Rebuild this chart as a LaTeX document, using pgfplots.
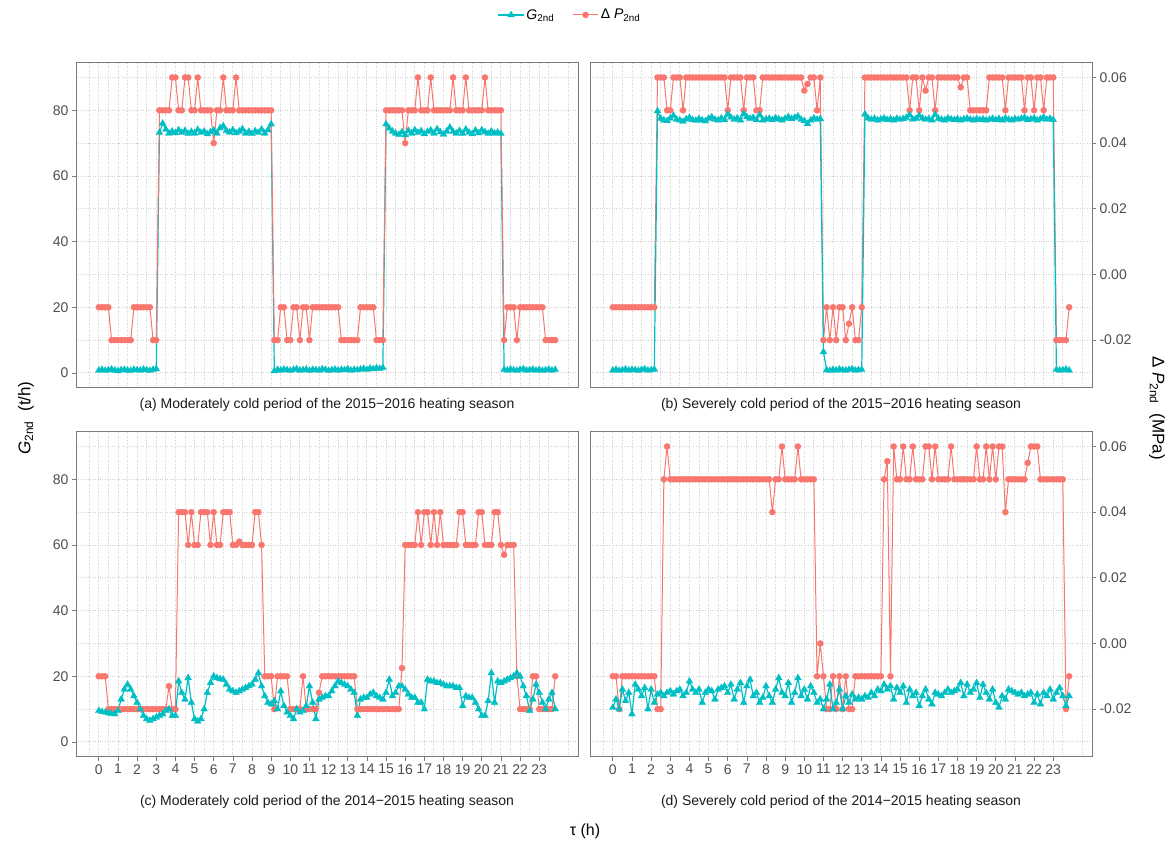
\documentclass[border=0pt]{standalone}
\usepackage{fontspec}
\setmainfont{Liberation Sans}
\usepackage{pgfplots}
\usepackage{pgfplotstable}
\pgfplotsset{compat=1.18}
\definecolor{gcol}{HTML}{00BFC4}
\definecolor{pcol}{HTML}{F8766D}
\definecolor{bordercol}{HTML}{7A7A7A}
\definecolor{gridcol}{HTML}{D2D2D2}
\definecolor{ticklab}{HTML}{4D4D4D}
\definecolor{striptext}{HTML}{1A1A1A}

\pgfplotstableread[row sep=\\]{i G P\\
0 0.8 20\\1 1.0 20\\2 0.7 20\\3 0.9 20\\4 1.1 10\\5 0.8 10\\6 0.6 10\\7 0.9 10\\8 1.0 10\\9 0.8 10\\10 0.7 10\\11 1.0 20\\
12 0.9 20\\13 0.8 20\\14 1.1 20\\15 0.9 20\\16 0.7 20\\17 1.0 10\\18 1.2 10\\19 73.2 80\\20 76.0 80\\21 74.2 80\\22 73.0 80\\23 73.6 90\\
24 73.1 90\\25 74.0 80\\26 73.2 80\\27 73.8 90\\28 72.9 90\\29 73.5 80\\30 73.0 80\\31 74.1 90\\32 73.2 80\\33 73.6 80\\34 72.8 80\\35 73.4 80\\
36 73.9 70\\37 73.0 80\\38 74.6 80\\39 75.2 90\\40 73.8 80\\41 73.3 80\\42 74.0 80\\43 73.1 90\\44 73.6 80\\45 74.3 80\\46 73.0 80\\47 73.5 80\\
48 72.9 80\\49 73.7 80\\50 73.2 80\\51 74.2 80\\52 73.0 80\\53 74.0 80\\54 75.8 80\\55 0.6 10\\56 1.0 10\\57 0.8 20\\58 1.1 20\\59 0.9 10\\
60 0.7 10\\61 1.0 20\\62 1.2 20\\63 0.8 10\\64 0.9 20\\65 1.1 20\\66 0.7 10\\67 1.0 20\\68 0.9 20\\69 0.8 20\\70 1.2 20\\71 1.0 20\\
72 0.7 20\\73 0.9 20\\74 1.1 20\\75 0.8 20\\76 1.0 10\\77 0.9 10\\78 1.2 10\\79 0.8 10\\80 1.0 10\\81 0.9 10\\82 1.1 20\\83 1.3 20\\
84 1.0 20\\85 1.4 20\\86 1.2 20\\87 1.5 10\\88 1.3 10\\89 1.6 10\\90 75.8 80\\91 74.5 80\\92 73.6 80\\93 73.0 80\\94 72.6 80\\95 73.4 80\\
96 72.5 70\\97 73.8 80\\98 73.0 80\\99 74.0 80\\100 73.2 90\\101 73.7 80\\102 72.8 80\\103 73.5 80\\104 73.9 90\\105 73.0 80\\106 74.3 80\\107 73.4 80\\
108 72.7 80\\109 73.6 80\\110 74.8 80\\111 73.5 90\\112 73.0 80\\113 73.8 80\\114 72.9 80\\115 74.2 90\\116 73.3 80\\117 72.8 80\\118 73.9 80\\119 73.1 80\\
120 74.0 80\\121 73.4 90\\122 72.9 80\\123 73.6 80\\124 73.0 80\\125 73.3 80\\126 72.9 80\\127 1.0 10\\128 0.8 20\\129 1.1 20\\130 0.9 20\\131 0.7 10\\
132 1.0 20\\133 1.2 20\\134 0.8 20\\135 0.9 20\\136 1.1 20\\137 0.8 20\\138 1.0 20\\139 0.7 20\\140 0.9 10\\141 1.1 10\\142 0.8 10\\143 1.0 10\\
}\tabA

\pgfplotstableread[row sep=\\]{i G P\\
0 0.8 20\\1 1.0 20\\2 0.7 20\\3 0.9 20\\4 1.1 20\\5 0.8 20\\6 1.0 20\\7 0.9 20\\8 0.7 20\\9 1.0 20\\10 1.2 20\\11 0.8 20\\
12 0.9 20\\13 1.1 20\\14 79.8 90\\15 77.5 90\\16 77.0 90\\17 76.8 80\\18 77.6 80\\19 78.4 90\\20 77.2 90\\21 77.0 90\\22 76.6 80\\23 77.3 90\\
24 77.8 90\\25 77.1 90\\26 76.9 90\\27 77.4 90\\28 77.0 90\\29 76.7 90\\30 77.5 90\\31 77.9 90\\32 77.2 90\\33 77.0 90\\34 77.6 90\\35 77.1 90\\
36 78.8 80\\37 77.9 90\\38 77.2 90\\39 77.6 90\\40 77.0 90\\41 78.9 80\\42 78.0 90\\43 77.5 90\\44 77.8 90\\45 77.1 80\\46 78.6 80\\47 77.0 90\\
48 77.3 90\\49 77.5 90\\50 77.1 90\\51 77.7 90\\52 77.3 90\\53 77.0 90\\54 77.5 90\\55 78.0 90\\56 77.4 90\\57 77.8 90\\58 78.2 90\\59 77.2 90\\
60 76.8 86\\61 75.9 88\\62 77.0 90\\63 77.6 90\\64 77.2 80\\65 77.4 90\\66 6.4 10\\67 0.9 20\\68 0.7 10\\69 1.0 20\\70 0.8 10\\71 1.1 20\\
72 0.9 20\\73 0.8 10\\74 1.0 15\\75 1.2 20\\76 0.8 10\\77 0.9 10\\78 1.0 20\\79 78.8 90\\80 77.6 90\\81 77.2 90\\82 77.5 90\\83 77.0 90\\
84 77.3 90\\85 77.6 90\\86 77.1 90\\87 77.4 90\\88 77.0 90\\89 77.5 90\\90 77.2 90\\91 77.4 90\\92 77.8 90\\93 78.6 80\\94 77.3 90\\95 77.5 90\\
96 78.4 80\\97 77.6 90\\98 77.2 86\\99 77.4 90\\100 77.0 90\\101 78.7 80\\102 77.5 90\\103 77.2 90\\104 77.0 90\\105 77.6 90\\106 77.3 90\\107 77.1 90\\
108 77.4 90\\109 77.0 87\\110 77.3 90\\111 77.5 90\\112 77.2 80\\113 77.0 80\\114 77.4 80\\115 77.1 80\\116 77.3 80\\117 77.0 80\\118 77.2 90\\119 77.5 90\\
120 77.1 90\\121 77.4 90\\122 77.0 90\\123 77.6 80\\124 77.2 90\\125 77.0 90\\126 77.4 90\\127 77.2 90\\128 77.5 90\\129 77.8 80\\130 77.1 90\\131 77.3 90\\
132 77.6 80\\133 77.0 90\\134 77.4 90\\135 77.9 80\\136 77.2 90\\137 77.5 90\\138 77.1 90\\139 1.0 10\\140 0.8 10\\141 0.9 10\\142 1.1 10\\143 0.8 20\\
}\tabB

\pgfplotstableread[row sep=\\]{i G P\\
0 9.5 20\\1 9.2 20\\2 9.0 20\\3 8.8 10\\4 8.6 10\\5 8.5 10\\6 9.5 10\\7 13 10\\8 16 10\\9 17.5 10\\10 16 10\\11 14 10\\
12 12 10\\13 10 10\\14 8 10\\15 7 10\\16 6.5 10\\17 7 10\\18 7.5 10\\19 8 10\\20 8.5 10\\21 9.5 10\\22 10 17\\23 8 10\\
24 8 10\\25 18.5 70\\26 15 70\\27 13 70\\28 19.5 60\\29 12 70\\30 7 60\\31 6.3 60\\32 7 70\\33 10 70\\34 15 70\\35 18 60\\
36 20 70\\37 19.5 60\\38 19.2 60\\39 19 70\\40 17.5 70\\41 16 70\\42 15.5 60\\43 15 60\\44 15.5 61\\45 16 60\\46 16.5 60\\47 17 60\\
48 17.5 60\\49 19 70\\50 21 70\\51 17 60\\52 14 20\\53 12 20\\54 11.5 20\\55 12.5 10\\56 10 20\\57 15.5 20\\58 11 20\\59 9 20\\
60 8 10\\61 7 10\\62 10 10\\63 9 10\\64 9.5 20\\65 11 10\\66 17 10\\67 12 10\\68 7 10\\69 13 15\\70 13.5 20\\71 14 20\\
72 14 20\\73 15.5 20\\74 17 20\\75 18.5 20\\76 18 20\\77 17.5 20\\78 17 20\\79 16 20\\80 15 20\\81 8 10\\82 13 10\\83 13.5 10\\
84 13.5 10\\85 14.5 10\\86 15 10\\87 14 10\\88 13.5 10\\89 13 10\\90 15 10\\91 19 10\\92 14 10\\93 15 10\\94 17 10\\95 17 22.5\\
96 16 60\\97 14.5 60\\98 13.5 60\\99 13.5 60\\100 12 70\\101 12 60\\102 10 70\\103 19 70\\104 18.5 60\\105 18.5 70\\106 18 60\\107 18 70\\
108 17.5 60\\109 17 60\\110 17 60\\111 17 60\\112 16.5 60\\113 16.5 70\\114 11 70\\115 14 60\\116 13.5 60\\117 13.5 60\\118 12 60\\119 10 70\\
120 8 70\\121 8 60\\122 12.5 60\\123 21 60\\124 12 70\\125 18.5 70\\126 18 60\\127 18.5 57\\128 19 60\\129 19.5 60\\130 20 60\\131 21 20\\
132 20 10\\133 17 10\\134 14 10\\135 9.5 10\\136 13 20\\137 17.5 20\\138 15 10\\139 12 10\\140 10 10\\141 13 10\\142 15 10\\143 10 20\\
}\tabC

\pgfplotstableread[row sep=\\]{i G P\\
0 10.5 20\\1 13 20\\2 10 10\\3 16 20\\4 12.5 20\\5 15 20\\6 8.5 20\\7 17.5 20\\8 16 20\\9 14 20\\10 16.5 20\\11 10 20\\
12 16 20\\13 12 20\\14 14.5 10\\15 15 10\\16 14 80\\17 15 90\\18 15.5 80\\19 14.5 80\\20 15.5 80\\21 16 80\\22 14 80\\23 15 80\\
24 18.5 80\\25 16 80\\26 15 80\\27 16 80\\28 12 80\\29 15 80\\30 16 80\\31 15.5 80\\32 13 80\\33 16 80\\34 16.5 80\\35 17 80\\
36 15 80\\37 17.5 80\\38 13 80\\39 16 80\\40 18 80\\41 12 80\\42 17 80\\43 19 80\\44 14 80\\45 15 80\\46 12 80\\47 13.5 80\\
48 17 80\\49 14 80\\50 12 70\\51 16 80\\52 19.5 80\\53 15 90\\54 14 80\\55 18 80\\56 12 80\\57 15 80\\58 19.5 90\\59 14 80\\
60 16 80\\61 13 80\\62 17 80\\63 15 80\\64 12 20\\65 13 30\\66 10 20\\67 13 10\\68 17.5 10\\69 10 20\\70 12 10\\71 16 20\\
72 10 10\\73 14 20\\74 12 10\\75 14.5 10\\76 13 20\\77 13.5 20\\78 13 20\\79 14 20\\80 13.5 20\\81 15 20\\82 14 20\\83 16 20\\
84 15.5 20\\85 17.5 80\\86 16 85.5\\87 17 20\\88 13 90\\89 16.5 80\\90 15 80\\91 17 90\\92 12 80\\93 16 80\\94 14 90\\95 15 80\\
96 11 80\\97 14 80\\98 16 90\\99 13 90\\100 11.5 80\\101 15 90\\102 14.5 80\\103 14 80\\104 15 80\\105 16 80\\106 15 90\\107 15.5 80\\
108 16 80\\109 18 80\\110 14 80\\111 17.5 80\\112 15 80\\113 16 80\\114 18 90\\115 13.5 80\\116 17.5 80\\117 15 90\\118 13 80\\119 16 90\\
120 12 80\\121 10.5 90\\122 14 90\\123 13 70\\124 16 80\\125 15.5 80\\126 15 80\\127 14.5 80\\128 15 80\\129 14 80\\130 14.5 85\\131 15 90\\
132 12 90\\133 14.5 90\\134 11.5 80\\135 15 80\\136 14 80\\137 16 80\\138 13 80\\139 15 80\\140 16.5 80\\141 14 80\\142 11 10\\143 14 20\\
}\tabD

\pgfplotsset{
  panel/.style={
    scale only axis, width=502pt, height=325pt,
    xmin=-7.15, xmax=150.15, ymin=-4.5, ymax=94.5,
    axis line style={bordercol, line width=0.8pt},
    xtick={0,6,...,138}, minor xtick={-3,3,...,147},
    minor ytick={0,10,...,90},
    grid=both,
    major grid style={gridcol, dotted, line width=0.9pt},
    minor grid style={gridcol, dotted, line width=0.9pt},
    major tick length=4pt, minor tick length=0pt,
    tick align=outside,
    tick style={bordercol, line width=0.7pt},
    tick label style={font=\fontsize{14}{16}\selectfont, text=ticklab},
    xtick pos=bottom,
    clip=false,
  },
  leftpanel/.style={ytick={0,20,40,60,80}, yticklabels={0,20,40,60,80}, ytick pos=left},
  rightpanel/.style={ytick={10,30,50,70,90}, yticklabels={-0.02,0.00,0.02,0.04,0.06}, ytick pos=right, yticklabel pos=right},
  toppanel/.style={xticklabels={}, xtick style={draw=none}},
  botpanel/.style={xticklabels={0,1,2,3,4,5,6,7,8,9,10,11,12,13,14,15,16,17,18,19,20,21,22,23}, xticklabel style={inner xsep=0pt}},
  Gline/.style={color=gcol, line width=1.2pt, mark=triangle*, mark size=4pt, mark options={solid, fill=gcol, draw=gcol, line width=0.2pt}},
  Pline/.style={color=pcol, line width=1.0pt, mark=*, mark size=3.1pt, mark options={solid, fill=pcol, draw=pcol, line width=0.2pt}},
}

\begin{document}
\begin{tikzpicture}
\path[use as bounding box] (0,0) rectangle (1173pt,-847pt);

\begin{axis}[panel, leftpanel, toppanel, at={(76pt,-62.7pt)}, anchor=north west,
  legend image code/.code={\draw[mark repeat=2,mark phase=2,#1] plot coordinates {(0cm,0cm) (0.45cm,0cm) (0.9cm,0cm)};},
  legend style={at={(0.984,1.147)}, anchor=center, draw=none, fill=none, legend columns=2,
    font=\fontsize{14}{16}\selectfont, /tikz/every even column/.append style={column sep=16pt}}]
\addplot[Gline] table[x=i, y=G] \tabA;
\addlegendentry{\textit{G}\textsubscript{2nd}}
\addplot[Pline] table[x=i, y=P] \tabA;
\addlegendentry{Δ \textit{P}\textsubscript{2nd}}
\end{axis}

\begin{axis}[panel, rightpanel, toppanel, at={(590pt,-62.7pt)}, anchor=north west]
\addplot[Pline] table[x=i, y=P] \tabB;
\addplot[Gline] table[x=i, y=G] \tabB;
\end{axis}

\begin{axis}[panel, leftpanel, botpanel, at={(76pt,-431.7pt)}, anchor=north west]
\addplot[Pline] table[x=i, y=P] \tabC;
\addplot[Gline] table[x=i, y=G] \tabC;
\end{axis}

\begin{axis}[panel, rightpanel, botpanel, at={(590pt,-431.7pt)}, anchor=north west]
\addplot[Pline] table[x=i, y=P] \tabD;
\addplot[Gline] table[x=i, y=G] \tabD;
\end{axis}

\begin{scope}[every node/.style={font=\fontsize{14}{16}\selectfont, text=striptext}]
\node at (327pt,-405pt) {(a) Moderately cold period of the 2015−2016 heating season};
\node at (841pt,-405pt) {(b) Severely cold period of the 2015−2016 heating season};
\node at (327pt,-802pt) {(c) Moderately cold period of the 2014−2015 heating season};
\node at (841pt,-802pt) {(d) Severely cold period of the 2014−2015 heating season};
\end{scope}
\node[font=\fontsize{16}{18}\selectfont] at (585pt,-831pt) {τ (h)};
\node[font=\fontsize{17}{19}\selectfont, rotate=90] at (26pt,-418pt) {\textit{G}\textsubscript{2nd}\ \ (t/h)};
\node[font=\fontsize{17}{19}\selectfont, rotate=-90] at (1157pt,-408pt) {Δ \textit{P}\textsubscript{2nd}\ \ (MPa)};
\end{tikzpicture}
\end{document}
